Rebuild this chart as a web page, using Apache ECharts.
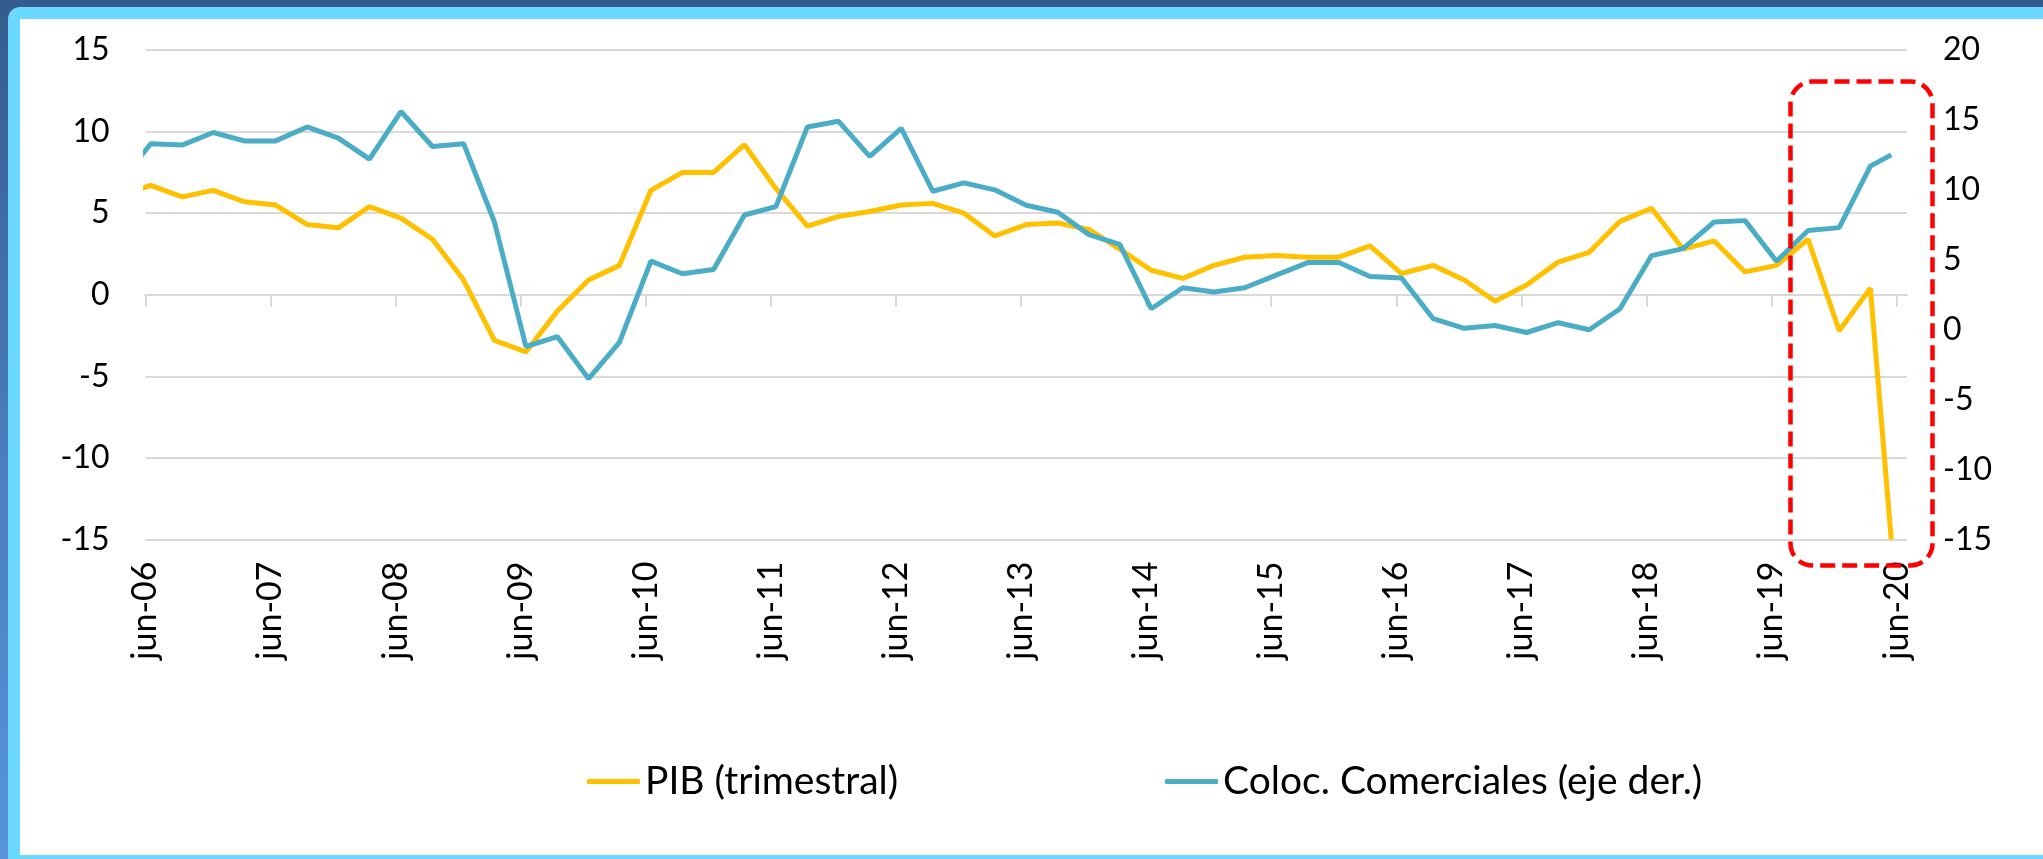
<!DOCTYPE html>
<html>
<head>
<meta charset="utf-8">
<script src="https://cdn.jsdelivr.net/npm/echarts@6.0.0/dist/echarts.min.js"></script>
<style>
  html, body { margin: 0; padding: 0; }
  body {
    width: 2043px;
    height: 859px;
    position: relative;
    overflow: hidden;
    background: linear-gradient(180deg, #355b8c 0%, #4a7fc0 55%, #5893db 100%);
  }
  .marco {
    position: absolute;
    left: 8px; top: 7px; right: 0; bottom: 0;
    background: #6ad8ff;
    border-top-left-radius: 12px;
  }
  .panel {
    position: absolute;
    left: 20px; top: 19px; right: 0; bottom: 4px;
    background: #ffffff;
  }
  #chart {
    position: absolute;
    left: 0; top: 0;
    width: 2043px;
    height: 859px;
  }
</style>
</head>
<body>
<div class="marco"></div>
<div class="panel"></div>
<div id="chart"></div>
<script>
  // fechas (mes de cada dato); el primero queda fuera del eje y se recorta
  const fechas = [
    '2006-03', '2006-06', '2006-09', '2006-12',
    '2007-03', '2007-06', '2007-09', '2007-12',
    '2008-03', '2008-06', '2008-09', '2008-12',
    '2009-03', '2009-06', '2009-09', '2009-12',
    '2010-03', '2010-06', '2010-09', '2010-12',
    '2011-03', '2011-06', '2011-09', '2011-12',
    '2012-03', '2012-06', '2012-09', '2012-12',
    '2013-03', '2013-06', '2013-09', '2013-12',
    '2014-03', '2014-06', '2014-09', '2014-12',
    '2015-03', '2015-06', '2015-09', '2015-12',
    '2016-03', '2016-06', '2016-09', '2016-12',
    '2017-03', '2017-06', '2017-09', '2017-12',
    '2018-03', '2018-06', '2018-09', '2018-12',
    '2019-03', '2019-06', '2019-09', '2019-12',
    '2020-03', '2020-05'
  ]

  // PIB (trimestral), eje izquierdo
  const pib = [
    6.1,
    6.7, 6.0, 6.4, 5.7, 5.5, 4.3, 4.1, 5.4, 4.7, 3.4, 0.9, -2.8,
    -3.5, -1.0, 0.9, 1.8, 6.4, 7.5, 7.5, 9.2, 6.5, 4.2, 4.8, 5.1,
    5.5, 5.6, 5.0, 3.6, 4.3, 4.4, 4.0, 2.8, 1.5, 1.0, 1.8, 2.3,
    2.4, 2.3, 2.3, 3.0, 1.3, 1.8, 0.9, -0.4, 0.6, 2.0, 2.6, 4.5,
    5.3, 2.8, 3.3, 1.4, 1.8, 3.4, -2.2, 0.4, -15.0
  ]

  // Coloc. Comerciales, eje derecho
  const colocaciones = [
    10.4,
    13.3, 13.2, 14.1, 13.5, 13.5, 14.5, 13.7, 12.2, 15.6, 13.1, 13.3, 7.7,
    -1.2, -0.5, -3.5, -0.9, 4.9, 4.0, 4.3, 8.2, 8.8, 14.5, 14.9, 12.4,
    14.4, 9.9, 10.5, 10.0, 8.9, 8.4, 6.8, 6.1, 1.5, 3.0, 2.7, 3.0,
    3.9, 4.8, 4.8, 3.8, 3.7, 0.8, 0.1, 0.3, -0.2, 0.5, 0.0, 1.5,
    5.3, 5.8, 7.7, 7.8, 4.9, 7.1, 7.3, 11.7, 12.5
  ]

  const etiquetasX = [
    'jun-06', 'jun-07', 'jun-08', 'jun-09', 'jun-10', 'jun-11', 'jun-12', 'jun-13',
    'jun-14', 'jun-15', 'jun-16', 'jun-17', 'jun-18', 'jun-19', 'jun-20'
  ]

  const nombres = ['PIB (trimestral)', 'Coloc. Comerciales (eje der.)']

  const fuente = 'Lato, "Open Sans", sans-serif'

  // cada dato al centro de su mes, las marcas al inicio de junio
  function aFecha (s) {
    const p = s.split('-')
    return Date.UTC(+p[0], +p[1] - 1, 16)
  }
  const marcas = etiquetasX.map(e => Date.UTC(2000 + +e.slice(4), 5, 1))
  const minX = marcas[0]
  const maxX = Date.UTC(2020, 6, 1)

  const serieA = fechas.map((f, i) => [aFecha(f), pib[i]])
  const serieB = fechas.map((f, i) => [aFecha(f), colocaciones[i]])

  function etiqueta (v) {
    const i = marcas.indexOf(v)
    return i >= 0 ? etiquetasX[i] : ''
  }

  const chart = echarts.init(document.getElementById('chart'), null, { renderer: 'canvas' })

  let option = {
    animation: false,
    textStyle: { fontFamily: fuente },
    grid: {
      left: 145.5,
      right: 136,
      top: 50,
      bottom: 319.5,
      containLabel: false,
      outerBoundsMode: 'none'
    },
    legend: [
      {
        data: [nombres[0]],
        left: 587,
        top: 762,
        padding: 0,
        icon: 'roundRect',
        itemWidth: 53,
        itemHeight: 5,
        textStyle: { fontSize: 39, color: '#000', fontFamily: fuente }
      },
      {
        data: [nombres[1]],
        left: 1165,
        top: 762,
        padding: 0,
        icon: 'roundRect',
        itemWidth: 53,
        itemHeight: 5,
        textStyle: { fontSize: 39, color: '#000', fontFamily: fuente }
      }
    ],
    xAxis: [
      {
        // linea en cero con sus marcas
        type: 'value',
        min: minX,
        max: maxX,
        position: 'bottom',
        axisLine: {
          show: true,
          onZero: true,
          lineStyle: { color: '#d9d9d9', width: 2 }
        },
        axisTick: {
          show: true,
          length: 12,
          customValues: marcas,
          lineStyle: { color: '#d9d9d9', width: 2 }
        },
        axisLabel: { show: false },
        splitLine: { show: false }
      },
      {
        // etiquetas abajo del grafico
        type: 'value',
        min: minX,
        max: maxX,
        position: 'bottom',
        axisLine: { show: false, onZero: false },
        axisTick: { show: false },
        splitLine: { show: false },
        axisLabel: {
          show: true,
          rotate: 90,
          margin: 22,
          fontSize: 34,
          color: '#000',
          fontFamily: fuente,
          customValues: marcas,
          formatter: etiqueta
        }
      }
    ],
    yAxis: [
      {
        type: 'value',
        min: -15,
        max: 15,
        interval: 5,
        position: 'left',
        axisLine: { show: false, onZero: false },
        axisTick: { show: false },
        axisLabel: { fontSize: 32, color: '#000', margin: 36, fontFamily: fuente },
        splitLine: { show: true, lineStyle: { color: '#d9d9d9', width: 2 } }
      },
      {
        type: 'value',
        min: -15,
        max: 20,
        interval: 5,
        position: 'right',
        axisLine: { show: false, onZero: false },
        axisTick: { show: false },
        axisLabel: { fontSize: 32, color: '#000', margin: 36, fontFamily: fuente },
        splitLine: { show: false }
      }
    ],
    series: [
      {
        name: nombres[0],
        type: 'line',
        xAxisIndex: 0,
        yAxisIndex: 0,
        data: serieA,
        showSymbol: false,
        symbol: 'none',
        clip: true,
        itemStyle: { color: '#ffc000' },
        lineStyle: { color: '#ffc000', width: 5 }
      },
      {
        name: nombres[1],
        type: 'line',
        xAxisIndex: 0,
        yAxisIndex: 1,
        data: serieB,
        showSymbol: false,
        symbol: 'none',
        clip: true,
        itemStyle: { color: '#4bacc6' },
        lineStyle: { color: '#4bacc6', width: 5 }
      }
    ],
    // recuadro rojo punteado sobre el ultimo ano
    graphic: [
      {
        type: 'rect',
        z: 100,
        shape: { x: 1790.5, y: 81.5, width: 142, height: 484, r: 22 },
        style: {
          fill: 'none',
          stroke: '#ff0000',
          lineWidth: 4.5,
          lineDash: [15, 7]
        }
      }
    ]
  }

  chart.setOption(option)
</script>
</body>
</html>
